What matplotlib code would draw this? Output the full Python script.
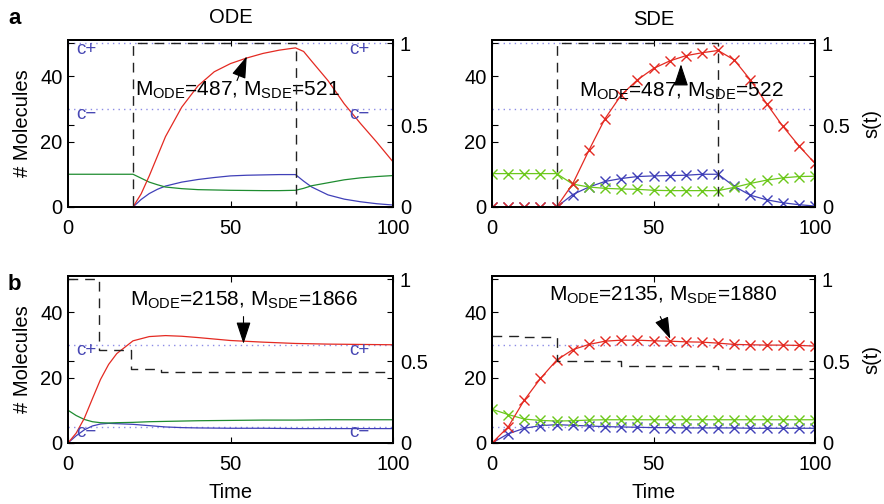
import matplotlib
matplotlib.use("Agg")
import matplotlib.pyplot as plt
import numpy as np

plt.rcParams['font.family'] = ['Liberation Sans', 'DejaVu Sans']
plt.rcParams['mathtext.fontset'] = 'custom'
plt.rcParams['mathtext.rm'] = 'Liberation Sans'
plt.rcParams['mathtext.it'] = 'Liberation Sans'

# ---- data: panel a (ODE) ----
t_ode_a = [0, 20, 22.5, 25, 27.5, 30, 35, 40, 45, 50, 55, 60, 65, 70, 72.5, 75, 80, 85, 90, 95, 100]
red_ode_a = [0, 0, 4.0, 9.5, 15.5, 21.5, 30.5, 37, 41.3, 43.8, 45.5, 46.9, 47.9, 48.6, 47.5, 44.5, 38.6, 31.5, 25.5, 19.8, 13.8]
green_ode_a = [10, 10, 8.8, 7.6, 6.8, 6.1, 5.6, 5.3, 5.2, 5.1, 5.05, 5.0, 5.0, 5.1, 5.7, 6.5, 7.4, 8.3, 8.9, 9.3, 9.6]
blue_ode_a = [0, 0, 2.3, 4.1, 5.4, 6.4, 7.6, 8.4, 9.0, 9.5, 9.7, 9.8, 9.9, 9.9, 7.9, 6.1, 3.7, 2.4, 1.6, 1.0, 0.6]

# ---- data: panel a (SDE), markers every 5 time units ----
t_sde = list(range(0, 101, 5))
red_sde_a = [0, 0, 0, 0, 0, 7.1, 17.3, 27, 34.2, 38.8, 42.3, 44.6, 46.2, 47.1, 47.8, 44.9, 38.8, 31.6, 24.7, 18.7, 13.3]
green_sde_a = [10.2, 10.2, 10.2, 10.2, 10.2, 7.0, 6.1, 5.7, 5.5, 5.4, 5.1, 5.0, 5.0, 5.0, 5.0, 6.0, 7.2, 8.2, 8.9, 9.3, 9.4]
blue_sde_a = [0, 0, 0, 0, 0, 3.8, 6.1, 7.8, 8.7, 9.3, 9.5, 9.6, 9.7, 10, 10, 6.3, 3.6, 2.2, 1.3, 0.7, 0.3]

# s(t) for panel a (same for both)
t_s_a = [0, 20, 70, 100]
s_a = [0, 1, 0, 0]

# ---- data: panel b (ODE) ----
t_ode_b = [0, 2.5, 5, 7.5, 10, 12.5, 15, 20, 25, 30, 35, 40, 50, 60, 70, 80, 90, 100]
red_ode_b = [0, 3, 7.5, 13.5, 19.4, 24, 27.3, 31.2, 32.5, 32.8, 32.6, 32.2, 31.3, 30.8, 30.4, 30.2, 30.1, 30.0]
green_ode_b = [10, 8.4, 7.2, 6.5, 6.2, 6.1, 6.2, 6.3, 6.5, 6.6, 6.7, 6.8, 6.9, 7.0, 7.0, 7.1, 7.1, 7.1]
blue_ode_b = [0, 2.2, 4.0, 5.2, 5.8, 6.0, 5.9, 5.7, 5.3, 4.9, 4.7, 4.6, 4.5, 4.5, 4.4, 4.4, 4.4, 4.4]
t_s_ode_b = [0, 9.4, 19.4, 28.5, 100]
s_ode_b = [1, 0.57, 0.45, 0.435, 0.435]

# ---- data: panel b (SDE) ----
red_sde_b = [0, 4.9, 13.1, 19.7, 25.3, 28.5, 30.1, 31.1, 31.4, 31.4, 31.2, 31.1, 30.9, 30.8, 30.5, 30.1, 30.0, 29.9, 29.9, 29.8, 29.6]
green_sde_b = [10.3, 8.7, 7.3, 6.9, 6.7, 6.8, 7.0, 7.1, 7.1, 7.1, 7.1, 7.1, 7.1, 7.1, 7.1, 7.1, 7.1, 7.1, 7.1, 7.1, 7.1]
blue_sde_b = [0, 2.8, 4.5, 5.3, 5.6, 5.4, 5.2, 5.0, 4.9, 4.8, 4.7, 4.7, 4.6, 4.6, 4.6, 4.6, 4.5, 4.5, 4.5, 4.5, 4.5]
t_s_sde_b = [0, 8, 20, 40, 70, 100]
s_sde_b = [0.653, 0.648, 0.498, 0.473, 0.449, 0.449]

# thresholds c+ / c-
c_a = [50, 30]
c_b = [30, 5]

labels = ['M$_{\\rm ODE}$=487, M$_{\\rm SDE}$=521', 'M$_{\\rm ODE}$=487, M$_{\\rm SDE}$=522',
          'M$_{\\rm ODE}$=2158, M$_{\\rm SDE}$=1866', 'M$_{\\rm ODE}$=2135, M$_{\\rm SDE}$=1880']

RED = '#e42a22'
BLUE = '#4040b8'
GREEN = '#1e8c30'
LGREEN = '#6cc81c'
DOT = '#8c8ce6'
CLAB = '#4848b4'
FS = 14.5

fig = plt.figure(figsize=(8.84, 5.04), dpi=100)

pos = {
    'tl': [68/884, 1-207/504, 325/884, 167/504],
    'tr': [492/884, 1-207/504, 323/884, 167/504],
    'bl': [68/884, 1-443/504, 325/884, 167/504],
    'br': [492/884, 1-443/504, 323/884, 167/504],
}


def setup(key):
    ax = fig.add_axes(pos[key])
    ax2 = ax.twinx()
    ax.set_xlim(0, 100)
    ax.set_ylim(0, 51)
    ax2.set_ylim(0, 1.02)
    ax.set_xticks([0, 50, 100])
    ax.set_yticks([0, 20, 40])
    ax2.set_yticks([0, 0.5, 1])
    ax2.set_yticklabels(['0', '0.5', '1'])
    ax.tick_params(direction='in', top=True, right=True, labelsize=FS, length=4)
    ax.tick_params(axis='x', pad=9)
    ax.tick_params(axis='y', pad=4)
    ax2.tick_params(direction='in', left=True, labelleft=False, labelsize=FS, length=4, pad=5)
    for a in (ax, ax2):
        for sp in a.spines.values():
            sp.set_linewidth(1.4)
    return ax, ax2


def thresholds(ax, c, with_labels):
    for v in c:
        ax.axhline(v, color=DOT, ls=(0, (1, 3)), lw=1.0, zorder=1)
    if with_labels:
        for v, lab in zip(c, ['c+', 'c\u2212']):
            ax.text(2.5, v - 1.8, lab, color=CLAB, fontsize=13.5, va='center', ha='left')
            ax.text(86.5, v - 1.8, lab, color=CLAB, fontsize=13.5, va='center', ha='left')


def note(ax, text, tx, ty, head, tail):
    ax.text(tx, ty, text, fontsize=FS + 0.5, va='baseline', ha='left', zorder=6)
    ax.annotate('', xy=head, xytext=tail,
                arrowprops=dict(arrowstyle='-|>,head_length=0.85,head_width=0.28',
                                color='k', lw=0.8, mutation_scale=16,
                                shrinkA=0, shrinkB=0), zorder=6)


# ---- top left: ODE, panel a ----
ax, ax2 = setup('tl')
thresholds(ax, c_a, True)
ax.plot(t_ode_a, blue_ode_a, color=BLUE, lw=0.9)
ax.plot(t_ode_a, green_ode_a, color=GREEN, lw=0.9)
ax.plot(t_ode_a, red_ode_a, color=RED, lw=0.9)
ax2.plot(t_s_a, s_a, drawstyle='steps-post', color='#222222', ls=(0, (7, 5)), lw=1.0)
ax.set_ylabel('# Molecules', fontsize=FS, labelpad=6)
ax.set_title('ODE', fontsize=FS, pad=12)
note(ax, labels[0], 20.5, 34.0, (55, 46), (52, 38.6))
fig.text(8/884, 1-18/504, 'a', fontsize=16, fontweight='bold', va='center', ha='left')

# ---- top right: SDE, panel a ----
ax, ax2 = setup('tr')
thresholds(ax, c_a, False)
ax.plot(t_sde, blue_sde_a, color=BLUE, lw=0.9, marker='x', ms=7, mew=1.0)
ax.plot(t_sde, green_sde_a, color=LGREEN, lw=0.9, marker='x', ms=7, mew=1.0)
ax.plot(t_sde, red_sde_a, color=RED, lw=0.9, marker='x', ms=7, mew=1.0)
ax2.plot(t_s_a, s_a, drawstyle='steps-post', color='#222222', ls=(0, (7, 5)), lw=1.0)
ax2.set_ylabel('s(t)', fontsize=FS, labelpad=9)
ax.set_title('SDE', fontsize=FS, pad=11)
note(ax, labels[1], 26.8, 33.6, (58.5, 43.6), (58.5, 38.3))

# ---- bottom left: ODE, panel b ----
ax, ax2 = setup('bl')
thresholds(ax, c_b, True)
ax.plot(t_ode_b, blue_ode_b, color=BLUE, lw=0.9)
ax.plot(t_ode_b, green_ode_b, color=GREEN, lw=0.9)
ax.plot(t_ode_b, red_ode_b, color=RED, lw=0.9)
ax2.plot(t_s_ode_b, s_ode_b, drawstyle='steps-post', color='#222222', ls=(0, (7, 5)), lw=1.0)
ax.set_ylabel('# Molecules', fontsize=FS, labelpad=6)
ax.set_xlabel('Time', fontsize=FS, labelpad=6)
note(ax, labels[2], 19.1, 42.0, (54, 30.3), (54, 38.6))
fig.text(8/884, 1-285/504, 'b', fontsize=16, fontweight='bold', va='center', ha='left')

# ---- bottom right: SDE, panel b ----
ax, ax2 = setup('br')
thresholds(ax, c_b, False)
ax.plot(t_sde, blue_sde_b, color=BLUE, lw=0.9, marker='x', ms=7, mew=1.0)
ax.plot(t_sde, green_sde_b, color=LGREEN, lw=0.9, marker='x', ms=7, mew=1.0)
ax.plot(t_sde, red_sde_b, color=RED, lw=0.9, marker='x', ms=7, mew=1.0)
ax2.plot(t_s_sde_b, s_sde_b, drawstyle='steps-post', color='#222222', ls=(0, (7, 5)), lw=1.0)
ax2.set_ylabel('s(t)', fontsize=FS, labelpad=9)
ax.set_xlabel('Time', fontsize=FS, labelpad=6)
note(ax, labels[3], 17.7, 43.5, (55.2, 31.8), (52.1, 38.6))

fig.savefig('out.png', dpi=100)
